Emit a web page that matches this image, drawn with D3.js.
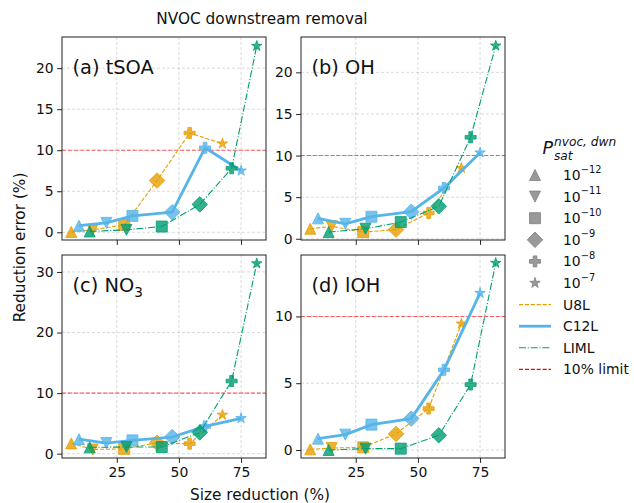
<!DOCTYPE html>
<html>
<head>
<meta charset="utf-8">
<script src="https://cdn.jsdelivr.net/npm/d3@7"></script>
<style>
  html, body { margin: 0; padding: 0; background: #fff; }
  svg { display: block; font-family: "DejaVu Sans", sans-serif; }
</style>
</head>
<body>
<svg id="chart" width="634" height="503"></svg>
<script>
// ---------------- data ----------------
const models = ["U8L", "C12L", "LIML"];
const psatExponents = [-12, -11, -10, -9, -8, -7];
const markerShapes = ["triangleUp", "triangleDown", "square", "diamond", "plus", "star"];

// size reduction (%) for each model, one per Psat value
const sizeU8L  = [6.7, 15.3, 28.0, 41.2, 54.3, 67.5];
const sizeC12L = [9.8, 20.8, 31.3, 47.3, 60.5, 75.0];
const sizeLIML = [14.1, 28.9, 43.1, 58.4, 71.2, 81.3];

// reduction error (%) per panel and model
const tSOA_U8L  = [0.05, 0.3, 0.9, 6.3, 12.1, 10.8];
const tSOA_C12L = [0.8, 1.15, 2.0, 2.45, 10.3, 7.5];
const tSOA_LIML = [0.1, 0.3, 0.7, 3.4, 7.8, 22.7];

const OH_U8L  = [1.2, 1.5, 0.8, 1.1, 3.1, 8.5];
const OH_C12L = [2.45, 1.8, 2.65, 3.25, 6.1, 10.35];
const OH_LIML = [0.8, 1.2, 2.0, 3.9, 12.2, 23.2];

const NO3_U8L  = [1.7, 0.7, 0.8, 1.8, 1.65, 6.4];
const NO3_C12L = [2.4, 1.75, 2.2, 2.75, 4.5, 5.85];
const NO3_LIML = [1.05, 1.1, 1.1, 3.5, 12.0, 31.4];

const lOH_U8L  = [0.05, 0.15, 0.2, 1.2, 3.1, 9.45];
const lOH_C12L = [0.85, 1.15, 1.9, 2.35, 6.0, 11.75];
const lOH_LIML = [0.0, 0.1, 0.1, 1.1, 4.9, 14.0];

const limitValue = 10;
const xTicks = [25, 50, 75];
const yTicksA = [0, 5, 10, 15, 20];
const yTicksB = [0, 5, 10, 15, 20];
const yTicksC = [0, 10, 20, 30];
const yTicksD = [0, 5, 10];

// ---------------- styles ----------------
const colors = { U8L: "#E69F00", C12L: "#56B4E9", LIML: "#009E73" };
const lineStyles = {
  U8L:  { width: 1.1, dash: "4.1,1.8" },
  C12L: { width: 2.8, dash: null },
  LIML: { width: 1.1, dash: "7,1.8,1.1,1.8" }
};
const MS = 11;

const sizes = { U8L: sizeU8L, C12L: sizeC12L, LIML: sizeLIML };
const panels = [
  { label: "(a) tSOA", sub: null, series: { U8L: tSOA_U8L, C12L: tSOA_C12L, LIML: tSOA_LIML },
    yDomain: [-0.94, 23.8], yTicks: yTicksA, left: 62, top: 37, showX: false },
  { label: "(b) OH", sub: null, series: { U8L: OH_U8L, C12L: OH_C12L, LIML: OH_LIML },
    yDomain: [-0.15, 24.25], yTicks: yTicksB, left: 301, top: 37, showX: false },
  { label: "(c) NO", sub: "3", series: { U8L: NO3_U8L, C12L: NO3_C12L, LIML: NO3_LIML },
    yDomain: [-0.71, 32.8], yTicks: yTicksC, left: 62, top: 255, showX: true },
  { label: "(d) lOH", sub: null, series: { U8L: lOH_U8L, C12L: lOH_C12L, LIML: lOH_LIML },
    yDomain: [-0.6, 14.6], yTicks: yTicksD, left: 301, top: 255, showX: true }
];
const PW = 204, PH = 203;
const xDomain = [2.97, 85.03];

function markerPath(shape, ms) {
  const h = ms / 2;
  switch (shape) {
    case "triangleUp": return `M0,${-h}L${-h},${h}L${h},${h}Z`;
    case "triangleDown": return `M0,${h}L${-h},${-h}L${h},${-h}Z`;
    case "square": return `M${-h},${-h}H${h}V${h}H${-h}Z`;
    case "diamond": { const d = h * Math.SQRT2; return `M0,${-d}L${d},0L0,${d}L${-d},0Z`; }
    case "plus": {
      const a = ms / 6;
      return `M${-a},${-h}H${a}V${-a}H${h}V${a}H${a}V${h}H${-a}V${a}H${-h}V${-a}H${-a}Z`;
    }
    case "star": {
      const R = h, r = h * 0.381966; let p = "";
      for (let i = 0; i < 10; i++) {
        const ang = -Math.PI / 2 + i * Math.PI / 5;
        const rad = i % 2 === 0 ? R : r;
        p += (i === 0 ? "M" : "L") + (rad * Math.cos(ang)).toFixed(3) + "," + (rad * Math.sin(ang)).toFixed(3);
      }
      return p + "Z";
    }
  }
}

const svg = d3.select("#chart");
const font = "DejaVu Sans, sans-serif";

panels.forEach(p => {
  const x = d3.scaleLinear().domain(xDomain).range([p.left, p.left + PW]);
  const y = d3.scaleLinear().domain(p.yDomain).range([p.top + PH, p.top]);
  const g = svg.append("g");

  // grid
  const grid = g.append("g").attr("stroke", "#b0b0b0").attr("stroke-opacity", 0.6)
    .attr("stroke-width", 0.8).attr("stroke-dasharray", "3,2");
  xTicks.forEach(t => grid.append("line").attr("x1", x(t)).attr("x2", x(t)).attr("y1", p.top).attr("y2", p.top + PH));
  p.yTicks.forEach(t => grid.append("line").attr("x1", p.left).attr("x2", p.left + PW).attr("y1", y(t)).attr("y2", y(t)));

  // 10% limit line
  g.append("line").attr("x1", p.left).attr("x2", p.left + PW)
    .attr("y1", y(limitValue)).attr("y2", y(limitValue))
    .attr("stroke", "#ff0000").attr("stroke-opacity", 0.6).attr("stroke-width", 1.1)
    .attr("stroke-dasharray", "4.1,1.8");

  // series
  models.forEach(m => {
    const pts = sizes[m].map((sx, i) => ({ x: sx, y: p.series[m][i], shape: markerShapes[i] }));
    const line = d3.line().x(d => x(d.x)).y(d => y(d.y));
    const path = g.append("path").datum(pts).attr("d", line)
      .attr("fill", "none").attr("stroke", colors[m]).attr("stroke-width", lineStyles[m].width)
      .attr("stroke-linejoin", "round");
    if (lineStyles[m].dash) path.attr("stroke-dasharray", lineStyles[m].dash);
    g.selectAll(null).data(pts).enter().append("path")
      .attr("d", d => markerPath(d.shape, MS))
      .attr("transform", d => `translate(${x(d.x)},${y(d.y)})`)
      .attr("fill", colors[m]).attr("fill-opacity", 0.8)
      .attr("stroke", colors[m]).attr("stroke-opacity", 0.8).attr("stroke-width", 1);
  });

  // frame
  g.append("rect").attr("x", p.left).attr("y", p.top).attr("width", PW).attr("height", PH)
    .attr("fill", "none").attr("stroke", "#222").attr("stroke-width", 1);

  // axes
  const xAxis = d3.axisBottom(x).tickValues(xTicks).tickSize(4.9).tickPadding(4.5)
    .tickFormat(p.showX ? d3.format("d") : () => "");
  const xg = g.append("g").attr("transform", `translate(0,${p.top + PH})`).call(xAxis);
  const yAxis = d3.axisLeft(y).tickValues(p.yTicks).tickSize(4.9).tickPadding(3.5).tickFormat(d3.format("d"));
  const yg = g.append("g").attr("transform", `translate(${p.left},0)`).call(yAxis);
  [xg, yg].forEach(a => {
    a.select(".domain").remove();
    a.selectAll(".tick line").attr("stroke", "#222").attr("stroke-width", 1);
    a.selectAll(".tick text").attr("fill", "#111").attr("font-size", 13.9).attr("font-family", font);
  });

  // panel label
  const lt = g.append("text").attr("x", p.left + 10.5).attr("y", p.top + 36.5)
    .attr("font-size", 19.4).attr("font-family", font).attr("fill", "#111").text(p.label);
  if (p.sub) lt.append("tspan").attr("dy", 5).attr("font-size", 13.6).text(p.sub);
});

// titles
svg.append("text").attr("x", 262).attr("y", 24).attr("text-anchor", "middle")
  .attr("font-size", 15.3).attr("font-family", font).attr("fill", "#111").text("NVOC downstream removal");
svg.append("text").attr("x", 260).attr("y", 499.5).attr("text-anchor", "middle")
  .attr("font-size", 15.3).attr("font-family", font).attr("fill", "#111").text("Size reduction (%)");
svg.append("text").attr("transform", "translate(25,247.5) rotate(-90)").attr("text-anchor", "middle")
  .attr("font-size", 15.3).attr("font-family", font).attr("fill", "#111").text("Reduction error (%)");

// legend
const lg = svg.append("g");
lg.append("text").attr("x", 542.5).attr("y", 154).attr("font-family", font).attr("font-style", "italic")
  .attr("font-size", 17.5).attr("fill", "#111").text("P");
lg.append("text").attr("x", 554).attr("y", 146).attr("font-family", font).attr("font-style", "italic")
  .attr("font-size", 12.2).attr("fill", "#111").text("nvoc, dwn");
lg.append("text").attr("x", 554).attr("y", 159.5).attr("font-family", font).attr("font-style", "italic")
  .attr("font-size", 12.2).attr("fill", "#111").text("sat");

const rowY = i => 175 + i * 21.6;
psatExponents.forEach((e, i) => {
  lg.append("path").attr("d", markerPath(markerShapes[i], MS))
    .attr("transform", `translate(535,${rowY(i)})`)
    .attr("fill", "gray").attr("fill-opacity", 0.8).attr("stroke", "gray").attr("stroke-opacity", 0.8);
  const t = lg.append("text").attr("x", 563).attr("y", rowY(i) + 5).attr("font-family", font)
    .attr("font-size", 13.9).attr("fill", "#111").text("10");
  t.append("tspan").attr("dy", -7.5).attr("font-size", 9.8).text("\u2212" + Math.abs(e));
});
const lineItems = [
  { name: "U8L", color: colors.U8L, width: lineStyles.U8L.width, dash: lineStyles.U8L.dash },
  { name: "C12L", color: colors.C12L, width: lineStyles.C12L.width, dash: null },
  { name: "LIML", color: colors.LIML, width: lineStyles.LIML.width, dash: lineStyles.LIML.dash },
  { name: "10% limit", color: "#ff0000", width: 1.1, dash: "4.1,1.8" }
];
lineItems.forEach((it, j) => {
  const yy = rowY(6 + j);
  const l = lg.append("line").attr("x1", 519).attr("x2", 551).attr("y1", yy).attr("y2", yy)
    .attr("stroke", it.color).attr("stroke-width", it.width);
  if (it.dash) l.attr("stroke-dasharray", it.dash);
  lg.append("text").attr("x", 563).attr("y", yy + 5).attr("font-family", font)
    .attr("font-size", 13.9).attr("fill", "#111").text(it.name);
});
</script>
</body>
</html>
